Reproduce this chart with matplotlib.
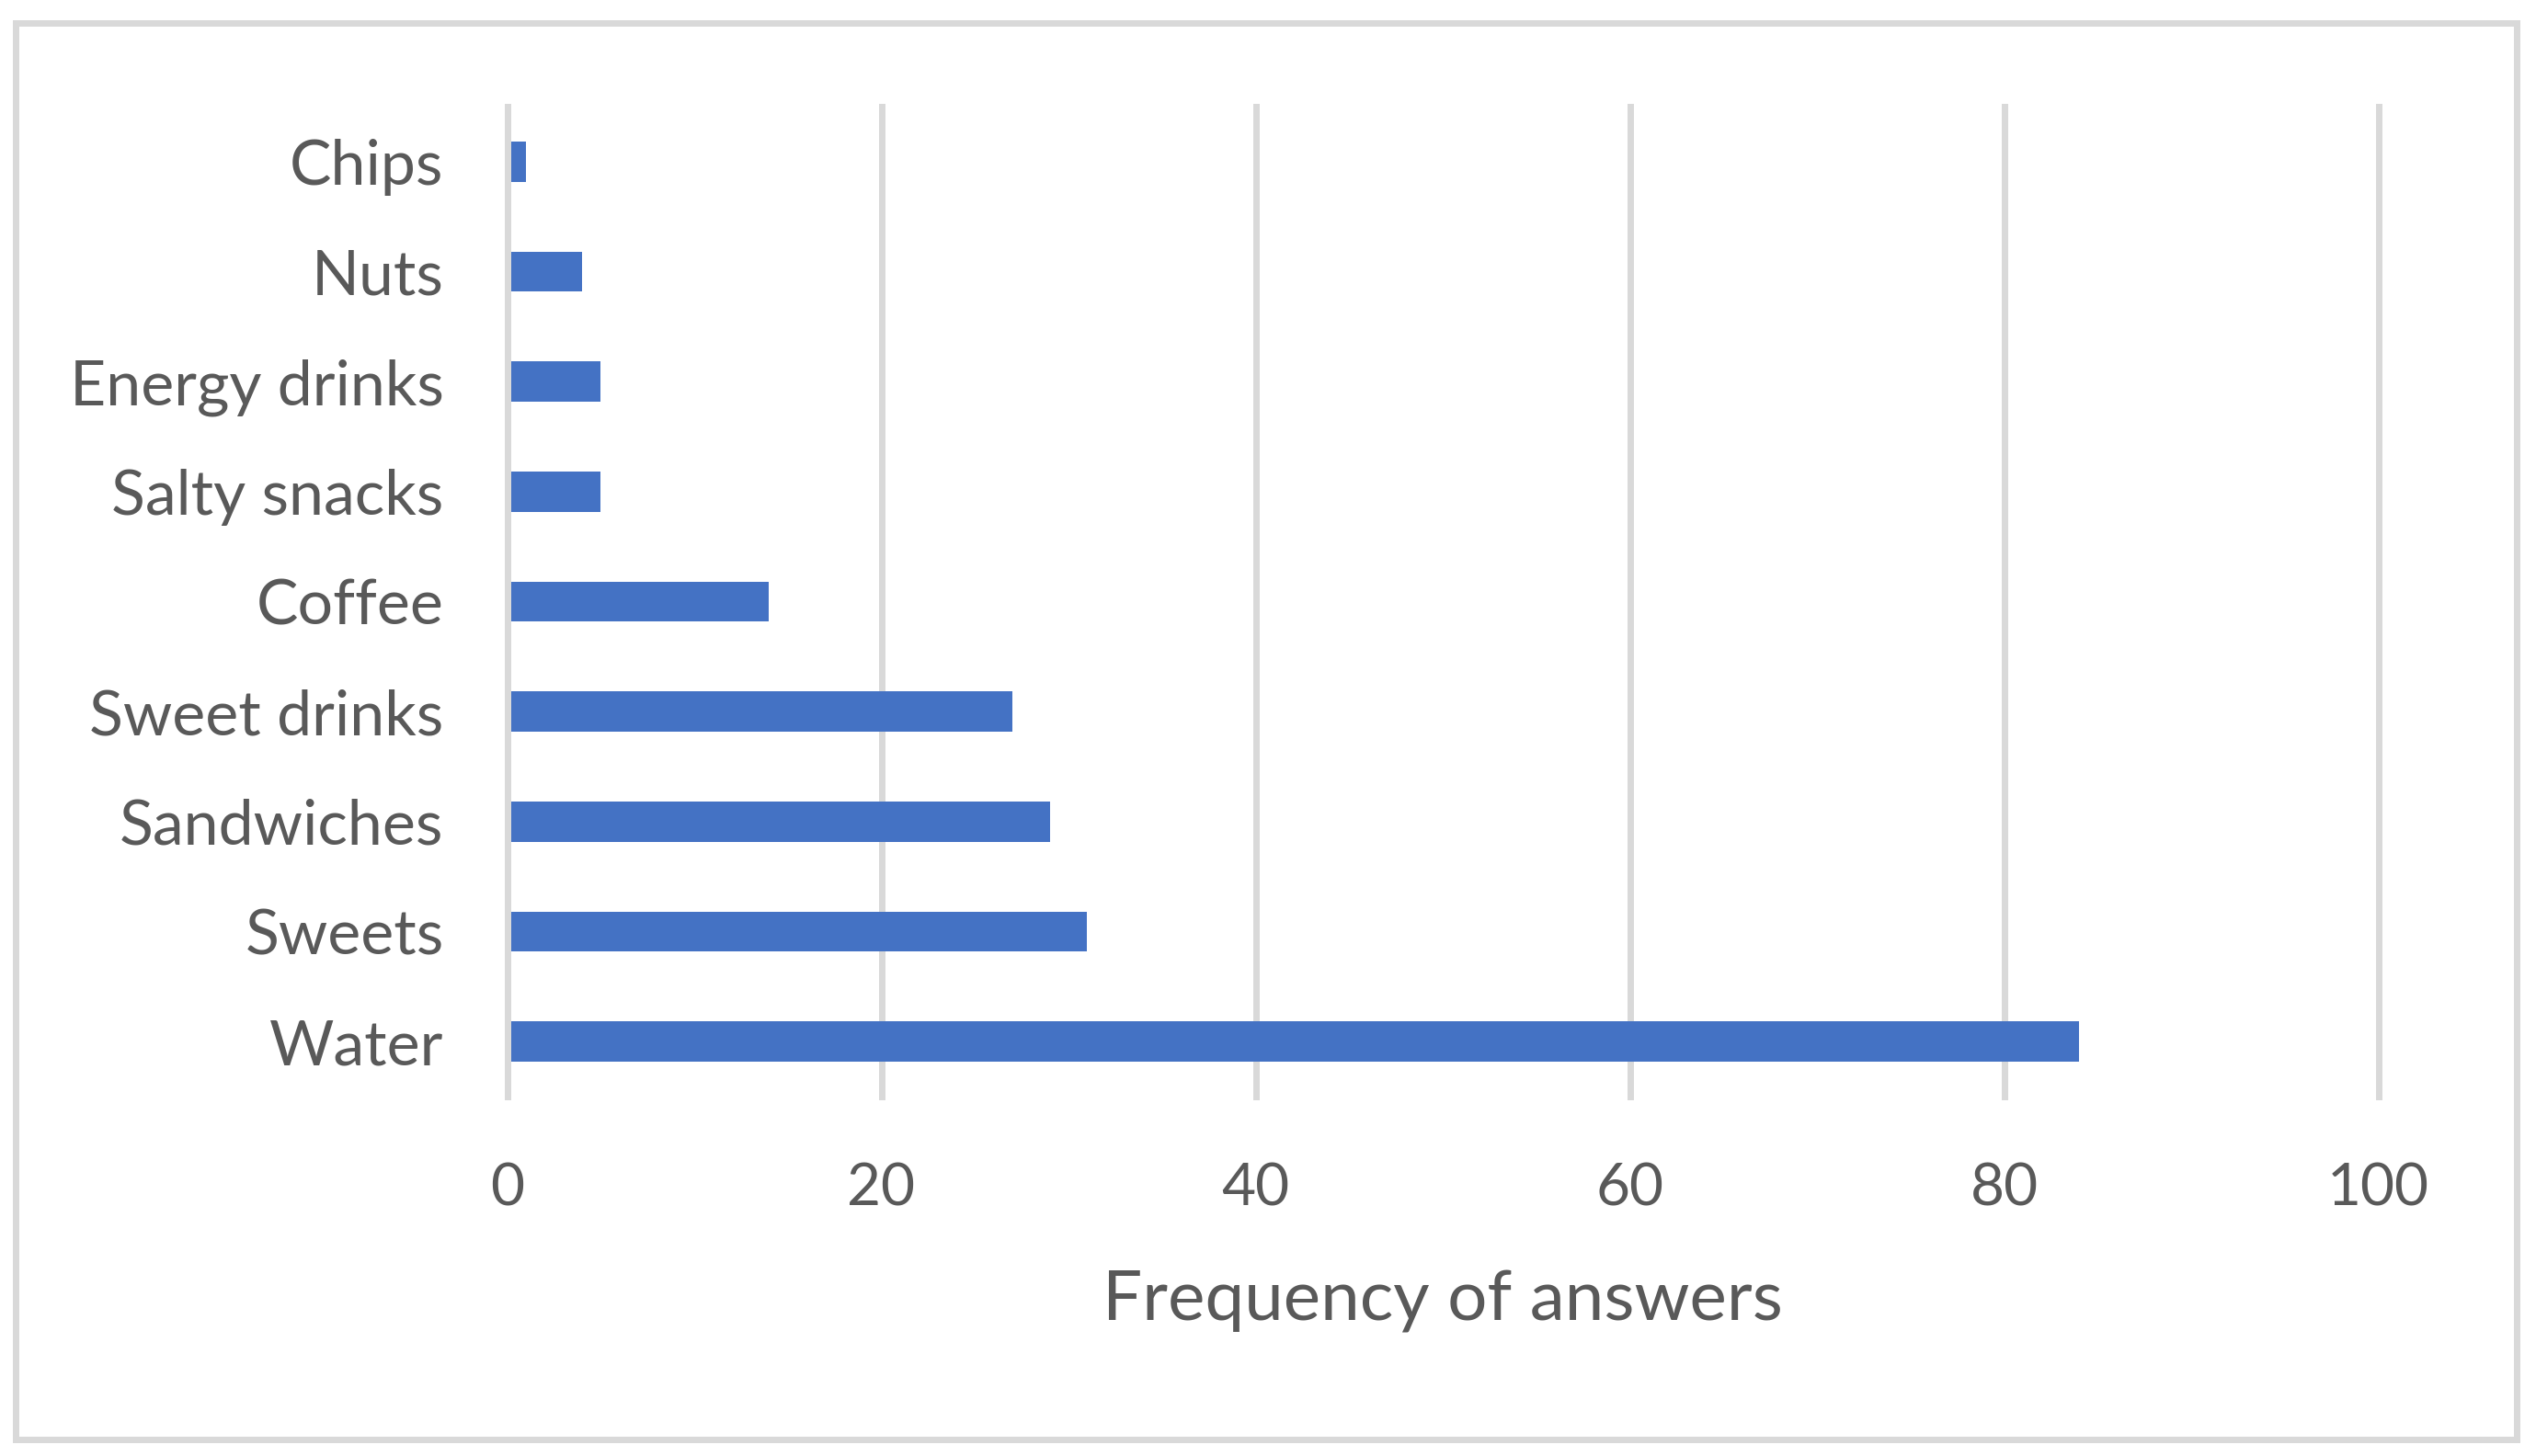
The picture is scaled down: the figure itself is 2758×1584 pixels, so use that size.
import numpy as np
import matplotlib.pyplot as plt
from matplotlib.patches import Rectangle

# data, bottom to top as drawn
categories = ["Water", "Sweets", "Sandwiches", "Sweet drinks", "Coffee",
              "Salty snacks", "Energy drinks", "Nuts", "Chips"]
answers = [84, 31, 29, 27, 14, 5, 5, 4, 1]
xticks = [0, 20, 40, 60, 80, 100]
xlabel = "Frequency of answers"

W, H, DPI = 2758, 1584, 100
grey_txt = "#595959"
grey_line = "#d9d9d9"
blue = "#4472C4"
px = 72 / DPI  # points per pixel

plt.rcParams["font.family"] = ["Lato", "DejaVu Sans"]

fig = plt.figure(figsize=(W / DPI, H / DPI), dpi=DPI)
ax = fig.add_axes([551.5 / W, 1 - 1193 / H, 2035 / W, 1077 / H])

y = np.arange(len(categories))
ax.barh(y, answers, height=0.365, color=blue, zorder=2)

ax.set_xlim(0, 100)
ax.set_ylim(-0.5, len(categories) - 0.5)
ax.set_xticks(xticks)
ax.set_yticks(y)
ax.set_yticklabels(categories)

ax.grid(axis="x", color=grey_line, linewidth=7 * px, zorder=1)
ax.set_axisbelow(True)
for gl in ax.get_xgridlines():
    gl.set_clip_on(False)

for s in ["top", "right", "bottom"]:
    ax.spines[s].set_visible(False)
ax.spines["left"].set_color(grey_line)
ax.spines["left"].set_linewidth(7 * px)
ax.spines["left"].set_zorder(3)

ax.tick_params(axis="both", length=0, labelcolor=grey_txt)
ax.tick_params(axis="y", pad=69 * px, labelsize=49)
ax.tick_params(axis="x", pad=72 * px, labelsize=46)

fig.text(1569 / W, 1 - 1436 / H, xlabel, ha="center", va="baseline",
         fontsize=55, color=grey_txt)

# outer chart border
fig.patches.append(Rectangle((16.5 / W, 1 - 1565.5 / H), 2720 / W, 1541 / H,
                             transform=fig.transFigure, fill=False,
                             edgecolor=grey_line, linewidth=7 * px))

fig.savefig("out.png", dpi=DPI, facecolor="white")
